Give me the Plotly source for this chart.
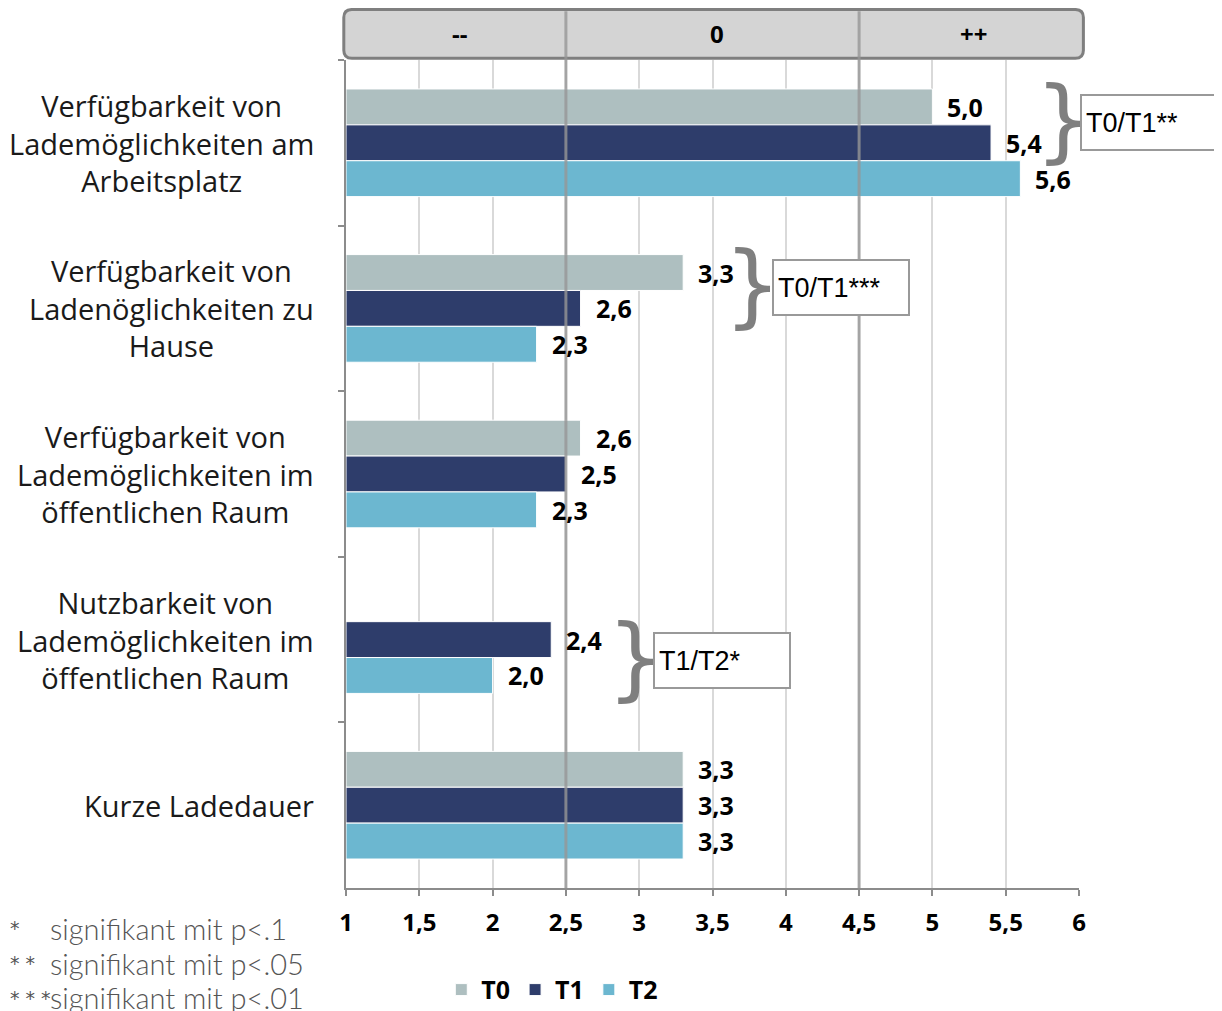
import plotly.graph_objects as go

# categories (top to bottom) and series values
categories = [
    "Verfügbarkeit von<br>Lademöglichkeiten am<br>Arbeitsplatz",
    "Verfügbarkeit von<br>Ladenöglichkeiten zu<br>Hause",
    "Verfügbarkeit von<br>Lademöglichkeiten im<br>öffentlichen Raum",
    "Nutzbarkeit von<br>Lademöglichkeiten im<br>öffentlichen Raum",
    "Kurze Ladedauer",
]
t0 = [5.0, 3.3, 2.6, None, 3.3]
t1 = [5.4, 2.6, 2.5, 2.4, 3.3]
t2 = [5.6, 2.3, 2.3, 2.0, 3.3]

series_names = ["T0", "T1", "T2"]
series_colors = ["#aebfc0", "#2e3d6b", "#6cb7d0"]

x_ticks = [1, 1.5, 2, 2.5, 3, 3.5, 4, 4.5, 5, 5.5, 6]
section_bounds = [1, 2.5, 4.5, 6]
section_labels = ["--", "0", "++"]

# significance brackets: (category index, pair, label)
sig_tests = [
    (0, "T0/T1", "T0/T1**"),
    (1, "T0/T1", "T0/T1***"),
    (3, "T1/T2", "T1/T2*"),
]
footnotes = [("*", "signifikant mit p<.1"),
             ("* *", "signifikant mit p<.05"),
             ("* * *", "signifikant mit p<.01")]

BAR_GAP = 0.35
bar_w = (1 - BAR_GAP) / 3
label_font = "Open Sans"
PLOT_W, PLOT_H = 733, 828
PAGE_PAD = 8  # default body margin of the html page
# pixel shifts of brace / box past the longer bar, per test
brace_shift = [72, 69, 84]
box_shift = [89, 89, 102]

fig = go.Figure()
for name, vals, col in zip(series_names, [t0, t1, t2], series_colors):
    fig.add_trace(go.Bar(
        y=categories, x=[v - 1 if v is not None else None for v in vals], base=1,
        orientation="h", name=name, marker_color=col,
        marker_line_color="white", marker_line_width=1,
        hoverinfo="skip",
    ))

# category labels, centred lines
for i, cat in enumerate(categories):
    fig.add_annotation(
        x=-30 / PLOT_W, y=i, xref="paper", yref="y", xanchor="right", yanchor="middle",
        text=cat, showarrow=False, align="center",
        font=dict(family="Open Sans", size=29, color="#1a1a1a"),
    )

# value labels
for k, vals in enumerate([t0, t1, t2]):
    off = (k - 1) * bar_w
    for i, v in enumerate(vals):
        if v is None:
            continue
        fig.add_annotation(
            x=v, y=i + off, xref="x", yref="y", xanchor="left", xshift=13,
            text=f"<b>{v:.1f}</b>".replace(".", ","), showarrow=False,
            font=dict(family=label_font, size=25, color="black"),
        )

# braces and boxes
all_series = dict(zip(series_names, [t0, t1, t2]))
for n, (i, pair, label) in enumerate(sig_tests):
    a, b = pair.split("/")
    yc = i + (-0.125 if pair == "T0/T1" else 0.125)
    xmax = max(all_series[a][i], all_series[b][i])
    fig.add_annotation(
        x=xmax, y=yc, xref="x", yref="y", xanchor="center", xshift=brace_shift[n],
        yshift=3, text="}", showarrow=False,
        font=dict(family="DejaVu Sans", size=90, color="#7f7f7f"),
    )
    fig.add_annotation(
        x=xmax, y=yc, xref="x", yref="y", xanchor="left", xshift=box_shift[n],
        text=label, showarrow=False, align="left", width=126, height=45,
        bordercolor="#999999", borderwidth=2, borderpad=4, bgcolor="white",
        font=dict(family="Liberation Sans", size=27, color="black"),
    )

# header box
x0p, x1p, y0p, y1p = -0.003, 1.006, 1.002, 1.061
rx, ry = 0.011, 0.011 * PLOT_W / PLOT_H
path = (f"M {x0p+rx},{y0p} L {x1p-rx},{y0p} Q {x1p},{y0p} {x1p},{y0p+ry} "
        f"L {x1p},{y1p-ry} Q {x1p},{y1p} {x1p-rx},{y1p} L {x0p+rx},{y1p} "
        f"Q {x0p},{y1p} {x0p},{y1p-ry} L {x0p},{y0p+ry} Q {x0p},{y0p} {x0p+rx},{y0p} Z")
fig.add_shape(type="path", path=path, xref="paper", yref="paper",
              fillcolor="#d4d4d4", line=dict(color="#7f7f7f", width=3), layer="above")
for xb in section_bounds[1:-1]:
    fig.add_shape(type="line", x0=xb, x1=xb, y0=0, y1=y1p - 0.002, xref="x", yref="paper",
                  line=dict(color="rgba(150,150,150,0.8)", width=3), layer="above")
for lab, a, b in zip(section_labels, section_bounds[:-1], section_bounds[1:]):
    fig.add_annotation(x=(a + b) / 2, y=(y0p + y1p) / 2, xref="x", yref="paper",
                       yanchor="middle", xshift=4, text=f"<b>{lab}</b>", showarrow=False,
                       font=dict(family=label_font, size=24, color="black"))

# footnotes
left_px = 346 - PAGE_PAD
for j, (stars, txt) in enumerate(footnotes):
    ypx = 928 + j * 35
    fig.add_annotation(x=-left_px / PLOT_W, y=(888 - ypx) / PLOT_H, xref="paper", yref="paper",
                       xanchor="left", yanchor="middle", text=stars, showarrow=False,
                       font=dict(family="DejaVu Sans", size=19, color="#555555"))
    fig.add_annotation(x=(40 - left_px) / PLOT_W, y=(888 - ypx) / PLOT_H, xref="paper", yref="paper",
                       xanchor="left", yanchor="middle", text=txt, showarrow=False,
                       font=dict(family="Lato", size=29, color="#555555", weight=300))

fig.update_layout(
    width=1222 - PAGE_PAD, height=1011 - PAGE_PAD,
    margin=dict(l=left_px, r=143, t=60 - PAGE_PAD, b=123, autoexpand=False),
    plot_bgcolor="white", paper_bgcolor="white",
    barmode="group", bargap=BAR_GAP, bargroupgap=0,
    separators=", ",
    showlegend=True,
    legend=dict(orientation="h", x=0.13, y=-0.123, xanchor="left", yanchor="middle",
                font=dict(family=label_font, size=25, color="black", weight="bold"),
                itemwidth=30, traceorder="normal"),
)
fig.update_xaxes(
    range=[1, 6], tickvals=x_ticks, tickformat=".1~f", automargin=False,
    showgrid=True, gridcolor="#d9d9d9", gridwidth=2,
    showline=True, linecolor="#8c8c8c", linewidth=2,
    ticks="outside", ticklen=6, tickcolor="#8c8c8c", tickwidth=2,
    tickfont=dict(family=label_font, size=24, color="black", weight="bold"),
    ticklabelstandoff=6, zeroline=False,
)
fig.update_yaxes(
    autorange="reversed", showline=True, linecolor="#8c8c8c", linewidth=2,
    ticks="outside", ticklen=6, tickcolor="#8c8c8c", tickwidth=2,
    tickson="boundaries", showgrid=False, showticklabels=False, automargin=False,
)

fig.write_html("out.html")
